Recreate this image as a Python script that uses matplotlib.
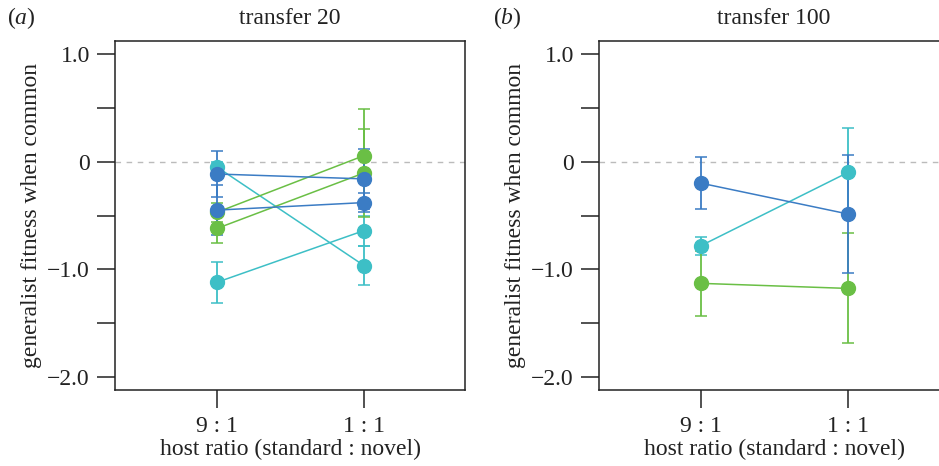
import matplotlib
matplotlib.use("Agg")
from matplotlib import pyplot as plt

plt.rcParams["font.family"] = ["Liberation Serif", "DejaVu Serif"]
plt.rcParams["mathtext.fontset"] = "custom"
plt.rcParams["mathtext.rm"] = "Liberation Serif"
plt.rcParams["mathtext.it"] = "Liberation Serif:italic"

CYAN = "#3dbfc6"
BLUE = "#3b7cc4"
GREEN = "#6abf45"

RATIOS = ["9 : 1", "1 : 1"]

# transfer 20: one line per replicate, values at 9:1 and 1:1
T20_COLORS = [CYAN, CYAN, GREEN, GREEN, BLUE, BLUE]
T20_MEANS = [
    [-0.05, -0.965],
    [-1.12, -0.64],
    [-0.47, 0.056],
    [-0.62, -0.105],
    [-0.115, -0.16],
    [-0.45, -0.38],
]
T20_ERRS = [
    [0.05, 0.18],
    [0.19, 0.14],
    [0.09, 0.43],
    [0.135, 0.405],
    [0.21, 0.28],
    [0.23, 0.09],
]

# transfer 100
T100_COLORS = [CYAN, GREEN, BLUE]
T100_MEANS = [
    [-0.78, -0.10],
    [-1.13, -1.177],
    [-0.20, -0.486],
]
T100_ERRS = [
    [0.085, 0.41],
    [0.30, 0.51],
    [0.24, 0.55],
]

FS = 17
TXT = "#222222"


def draw_panel(ax, means, errs, colors):
    x = list(range(len(RATIOS)))
    ax.axhline(0, color="#bbbbbb", linestyle=(0, (4, 4)), linewidth=1.0, zorder=0)
    for m, e, c in zip(means, errs, colors):
        ax.errorbar(x, m, yerr=e, color=c, linewidth=1.1, marker="o", markersize=10,
                    capsize=4, capthick=1.1, elinewidth=1.3, ecolor=c)
    ax.set_xlim(-0.694, 1.687)
    ax.set_ylim(-2.12, 1.12)
    ax.set_xticks(x)
    ax.set_xticklabels(RATIOS, fontsize=FS)
    ax.set_yticks([1.0, 0.5, 0, -0.5, -1.0, -1.5, -2.0])
    ax.set_yticklabels(["1.0", "", "0", "", "\u22121.0", "", "\u22122.0"], fontsize=FS)
    ax.tick_params(length=13, width=1.1, color=TXT, labelcolor=TXT)
    ax.tick_params(axis="x", pad=6)
    ax.tick_params(axis="y", pad=5)
    for s in ax.spines.values():
        s.set_linewidth(1.1)
        s.set_color(TXT)
    ax.set_xlabel("host ratio (standard : novel)", fontsize=FS, color=TXT, labelpad=1)
    ax.set_ylabel("generalist fitness when common", fontsize=FS, color=TXT, labelpad=4)


fig = plt.figure(figsize=(9.39, 4.66), dpi=100)
ax1 = fig.add_axes([115 / 939, 76 / 466, 350 / 939, 349 / 466])
ax2 = fig.add_axes([599 / 939, 76 / 466, 350 / 939, 349 / 466])

draw_panel(ax1, T20_MEANS, T20_ERRS, T20_COLORS)
draw_panel(ax2, T100_MEANS, T100_ERRS, T100_COLORS)

ty = 1 - 18 / 466
fig.text(290 / 939, ty, "transfer 20", ha="center", va="center", fontsize=FS, color=TXT)
fig.text(774 / 939, ty, "transfer 100", ha="center", va="center", fontsize=FS, color=TXT)
fig.text(21 / 939, ty, "($\\mathit{a}$)", ha="center", va="center", fontsize=FS, color=TXT)
fig.text(507 / 939, ty, "($\\mathit{b}$)", ha="center", va="center", fontsize=FS, color=TXT)

fig.savefig("out.png", dpi=100)
